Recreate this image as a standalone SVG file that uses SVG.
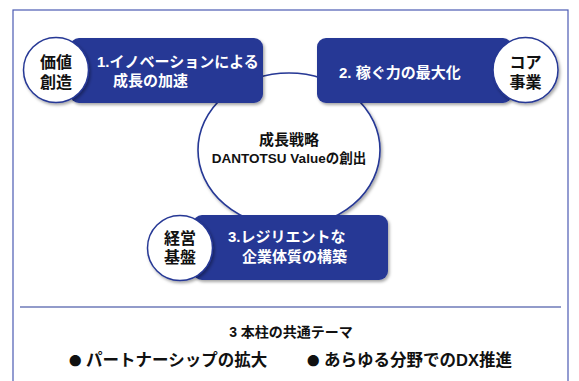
<svg xmlns="http://www.w3.org/2000/svg" width="579" height="381" viewBox="0 0 579 381">
<defs>
<filter id="sh" x="-20%" y="-20%" width="140%" height="140%">
<feDropShadow dx="1.5" dy="2" stdDeviation="1.5" flood-color="#000" flood-opacity="0.35"/>
</filter>
<style>
text{font-family:"Liberation Sans","Noto Sans CJK JP",sans-serif;font-weight:bold;}
.box{fill:#263895;filter:url(#sh);}
.badge{fill:#fff;stroke:#263895;stroke-width:1.5;filter:url(#sh);}
.wt{fill:#fff;font-size:15px;}
.bt{fill:#111;font-size:16px;text-anchor:middle;}
.dot{font-family:"Noto Sans CJK JP",sans-serif;font-size:12.5px;}
</style>
</defs>
<rect x="0" y="0" width="579" height="381" fill="#fff"/>
<rect x="13" y="10" width="555" height="380" fill="none" stroke="#4b5bb3" stroke-width="1.2"/>
<g id="center">
<ellipse cx="289" cy="150" rx="91" ry="77" fill="#fff" stroke="#263895" stroke-width="1.6" filter="url(#sh)"/>
<text x="289" y="145" font-size="15" text-anchor="middle" fill="#111">成長戦略</text>
<text x="289" y="163" font-size="13.5" text-anchor="middle" fill="#111">DANTOTSU Valueの創出</text>
</g>
<g id="pillar1">
<rect class="box" x="70" y="38" width="193" height="65" rx="9"/>
<text class="wt" x="97" y="67" font-size="14.5">1.イノベーションによる</text>
<text class="wt" x="113" y="86">成長の加速</text>
</g>
<g id="pillar2">
<rect class="box" x="317" y="38" width="195" height="65" rx="9"/>
<text class="wt" x="339" y="78">2. 稼ぐ力の最大化</text>
</g>
<g id="pillar3">
<rect class="box" x="193" y="215" width="195" height="65" rx="9"/>
<text class="wt" x="228" y="242">3.レジリエントな</text>
<text class="wt" x="242" y="262">企業体質の構築</text>
</g>
<g id="badge1">
<circle class="badge" cx="56" cy="70" r="32.5"/>
<text class="bt" x="56" y="68">価値</text>
<text class="bt" x="56" y="88">創造</text>
</g>
<g id="badge2">
<circle class="badge" cx="525.5" cy="70" r="32.5"/>
<text class="bt" x="525.5" y="68">コア</text>
<text class="bt" x="525.5" y="88">事業</text>
</g>
<g id="badge3">
<circle class="badge" cx="180" cy="248" r="32.5"/>
<text class="bt" x="180" y="244">経営</text>
<text class="bt" x="180" y="263">基盤</text>
</g>
<g id="connectors">
<line x1="20" y1="307" x2="561" y2="307" stroke="#263895" stroke-width="1.2"/>
</g>
<g id="theme">
<text x="291" y="337" font-size="14" text-anchor="middle" fill="#111">3 本柱の共通テーマ</text>
<text x="69" y="366" font-size="16.5" fill="#111"><tspan class="dot">●</tspan> パートナーシップの拡大</text>
<text x="307" y="366" font-size="16.5" fill="#111"><tspan class="dot">●</tspan> あらゆる分野でのDX推進</text>
</g>
</svg>
